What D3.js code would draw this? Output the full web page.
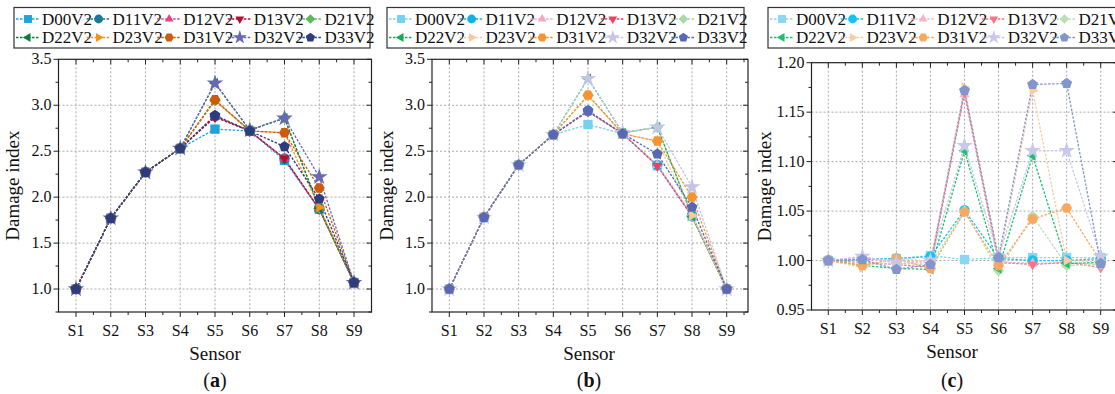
<!DOCTYPE html>
<html>
<head>
<meta charset="utf-8">
<script src="https://cdn.jsdelivr.net/npm/d3@7"></script>
<style>
  body { margin: 0; background: #fff; }
  svg text { font-family: "Liberation Serif", "DejaVu Serif", serif; fill: #111; }
</style>
</head>
<body>
<svg id="chart" width="1115" height="394"></svg>
<script>
const sensors = ["S1", "S2", "S3", "S4", "S5", "S6", "S7", "S8", "S9"];
const seriesNames = ["D00V2", "D11V2", "D12V2", "D13V2", "D21V2", "D22V2", "D23V2", "D31V2", "D32V2", "D33V2"];
const markers = ["square", "circle", "triUp", "triDown", "diamond", "triLeft", "triRight", "hexagon", "star", "pentagon"];

const colorsA = ["#1aa5de", "#1a7896", "#ea3f80", "#b4102e", "#5cb85c", "#0e7c3a", "#f39020", "#cc5c0c", "#6868b4", "#2c3c7c"];
const colorsB = ["#78d0f0", "#10b0e8", "#f4a8c8", "#f0405c", "#a8d8a8", "#10b050", "#f8c8a0", "#f89430", "#c4c4e4", "#5868b4"];
const colorsC = ["#88d8f4", "#10c4f4", "#f8b4cc", "#f87488", "#b8e0b0", "#20c070", "#f8cca4", "#f8a860", "#c8c8e8", "#8494cc"];

// panel (a)
const valuesA = [
  [1.00, 1.77, 2.27, 2.53, 2.74, 2.72, 2.40, 1.87, 1.07],
  [1.00, 1.77, 2.27, 2.53, 2.88, 2.72, 2.42, 1.87, 1.07],
  [1.00, 1.77, 2.27, 2.53, 2.88, 2.72, 2.42, 1.87, 1.07],
  [1.00, 1.77, 2.27, 2.53, 2.87, 2.72, 2.42, 1.87, 1.07],
  [1.00, 1.77, 2.27, 2.53, 3.05, 2.73, 2.86, 1.88, 1.07],
  [1.00, 1.77, 2.27, 2.53, 3.24, 2.73, 2.86, 1.88, 1.07],
  [1.00, 1.77, 2.27, 2.53, 3.05, 2.72, 2.70, 1.89, 1.07],
  [1.00, 1.77, 2.27, 2.53, 3.06, 2.72, 2.70, 2.10, 1.07],
  [1.00, 1.77, 2.27, 2.53, 3.24, 2.73, 2.86, 2.22, 1.07],
  [1.00, 1.77, 2.27, 2.53, 2.89, 2.72, 2.55, 1.98, 1.07]
];
// panel (b)
const valuesB = [
  [1.00, 1.78, 2.35, 2.68, 2.79, 2.69, 2.34, 1.79, 1.00],
  [1.00, 1.78, 2.35, 2.68, 2.94, 2.69, 2.35, 1.80, 1.00],
  [1.00, 1.78, 2.35, 2.68, 2.94, 2.69, 2.35, 1.80, 1.00],
  [1.00, 1.78, 2.35, 2.68, 2.93, 2.69, 2.34, 1.79, 1.00],
  [1.00, 1.78, 2.35, 2.68, 3.11, 2.70, 2.76, 1.80, 1.00],
  [1.00, 1.78, 2.35, 2.68, 3.29, 2.70, 2.76, 1.79, 1.00],
  [1.00, 1.78, 2.35, 2.68, 3.10, 2.69, 2.61, 1.80, 1.00],
  [1.00, 1.78, 2.35, 2.68, 3.11, 2.69, 2.61, 2.00, 1.00],
  [1.00, 1.78, 2.35, 2.68, 3.29, 2.70, 2.76, 2.11, 1.00],
  [1.00, 1.78, 2.35, 2.68, 2.94, 2.69, 2.47, 1.89, 1.00]
];
// panel (c)
const valuesC = [
  [1.000, 1.002, 1.002, 1.005, 1.001, 1.003, 1.003, 1.003, 1.003],
  [1.000, 1.001, 1.002, 1.004, 1.051, 1.002, 1.000, 1.000, 1.002],
  [1.000, 1.004, 0.997, 0.998, 1.168, 0.999, 0.997, 0.998, 0.996],
  [1.000, 0.998, 0.996, 0.993, 1.170, 0.998, 0.996, 0.998, 0.993],
  [1.000, 0.996, 0.997, 0.996, 1.050, 0.990, 1.045, 0.995, 0.996],
  [1.000, 0.995, 0.992, 0.991, 1.111, 0.992, 1.106, 0.997, 0.998],
  [1.000, 0.993, 1.002, 0.999, 1.175, 0.998, 1.172, 1.000, 0.999],
  [1.000, 0.995, 1.002, 0.992, 1.049, 0.995, 1.042, 1.053, 0.999],
  [1.000, 1.004, 0.998, 1.000, 1.116, 1.004, 1.111, 1.111, 1.004],
  [1.000, 1.001, 0.991, 0.996, 1.172, 1.003, 1.178, 1.179, 0.997]
];
const yTicksAB = [1.0, 1.5, 2.0, 2.5, 3.0, 3.5];
const yTicksC = [0.95, 1.00, 1.05, 1.10, 1.15, 1.20];

const svg = d3.select("#chart");

function markerPath(kind, s) {
  const r = s;
  const poly = (n, rot, rr) => {
    let pts = [];
    for (let i = 0; i < n; i++) {
      const a = rot + i * 2 * Math.PI / n;
      pts.push([rr * Math.cos(a), rr * Math.sin(a)]);
    }
    return "M" + pts.map(p => p.join(",")).join("L") + "Z";
  };
  switch (kind) {
    case "square": return d3.symbol(d3.symbolSquare, (2 * r * 0.9) ** 2)();
    case "circle": return d3.symbol(d3.symbolCircle, Math.PI * r * r)();
    case "triUp": return poly(3, -Math.PI / 2, r * 1.15);
    case "triDown": return poly(3, Math.PI / 2, r * 1.15);
    case "triLeft": return poly(3, Math.PI, r * 1.15);
    case "triRight": return poly(3, 0, r * 1.15);
    case "diamond": return poly(4, 0, r * 1.1);
    case "hexagon": return poly(6, 0, r * 1.05);
    case "pentagon": return poly(5, -Math.PI / 2, r * 1.1);
    case "star": return d3.symbol(d3.symbolStar, r * r * 3.2)();
  }
}

function drawPanel(p) {
  const g = svg.append("g");
  const x = d3.scaleLinear().domain([1, 9]).range([p.x1, p.x9]);
  const y = d3.scaleLinear().domain(p.yDomain).range([p.bottom, p.top]);

  // grid
  g.selectAll(".vg").data(sensors).enter().append("line")
    .attr("x1", (d, i) => x(i + 1)).attr("x2", (d, i) => x(i + 1))
    .attr("y1", p.top).attr("y2", p.bottom)
    .attr("stroke", "#a0a0a0").attr("stroke-width", 0.9).attr("stroke-dasharray", "2,2");
  g.selectAll(".hg").data(p.yTicks.filter(t => y(t) > p.top + 1 && y(t) < p.bottom - 1)).enter().append("line")
    .attr("x1", p.left).attr("x2", p.right)
    .attr("y1", d => y(d)).attr("y2", d => y(d))
    .attr("stroke", "#a0a0a0").attr("stroke-width", 0.9).attr("stroke-dasharray", "2,2");

  // series
  const line = d3.line().x((d, i) => x(i + 1)).y(d => y(d));
  p.values.forEach((vals, si) => {
    g.append("path").attr("d", line(vals))
      .attr("fill", "none").attr("stroke", p.colors[si])
      .attr("stroke-width", 1.3).attr("stroke-dasharray", "2.5,1.5");
  });
  p.values.forEach((vals, si) => {
    g.selectAll(null).data(vals).enter().append("path")
      .attr("d", markerPath(markers[si], p.ms))
      .attr("transform", (d, i) => "translate(" + x(i + 1) + "," + y(d) + ")")
      .attr("fill", p.colors[si]);
  });

  // frame
  g.append("rect").attr("x", p.left).attr("y", p.top)
    .attr("width", p.right - p.left).attr("height", p.bottom - p.top)
    .attr("fill", "none").attr("stroke", "#222").attr("stroke-width", 1.2);

  // x ticks (major + minor), outward at bottom, inward at top
  const xt = d3.range(0, 19).map(k => 0.5 + k * 0.5).filter(v => x(v) > p.left + 1 && x(v) < p.right - 1);
  xt.forEach(v => {
    const major = Number.isInteger(v);
    const len = major ? 5 : 3;
    g.append("line").attr("x1", x(v)).attr("x2", x(v)).attr("y1", p.bottom).attr("y2", p.bottom + len)
      .attr("stroke", "#222").attr("stroke-width", 1);
    g.append("line").attr("x1", x(v)).attr("x2", x(v)).attr("y1", p.top).attr("y2", p.top + len)
      .attr("stroke", "#222").attr("stroke-width", 1);
  });
  g.selectAll(".xl").data(sensors).enter().append("text")
    .attr("x", (d, i) => x(i + 1)).attr("y", p.bottom + 24)
    .attr("text-anchor", "middle").attr("font-size", 16).text(d => d);

  // y ticks
  const step = (p.yTicks[1] - p.yTicks[0]) / 2;
  const yt = d3.range(p.yDomain[0], p.yDomain[1] + step / 2, step / 1);
  yt.forEach((v, k) => {
    const major = p.yTicks.some(t => Math.abs(t - v) < 1e-6);
    const len = major ? 5 : 3;
    g.append("line").attr("x1", p.left - len).attr("x2", p.left).attr("y1", y(v)).attr("y2", y(v))
      .attr("stroke", "#222").attr("stroke-width", 1);
    g.append("line").attr("x1", p.right - len).attr("x2", p.right).attr("y1", y(v)).attr("y2", y(v))
      .attr("stroke", "#222").attr("stroke-width", 1);
  });
  g.selectAll(".yl").data(p.yTicks).enter().append("text")
    .attr("x", p.left - 7).attr("y", d => y(d) + 5)
    .attr("text-anchor", "end").attr("font-size", 16).text(d => d3.format(p.fmt)(d));

  // titles
  g.append("text").attr("x", p.titleX).attr("y", p.bottom + 48)
    .attr("text-anchor", "middle").attr("font-size", 19).text("Sensor");
  g.append("text").attr("transform", "translate(" + p.ylabX + "," + ((p.top + p.bottom) / 2) + ") rotate(-90)")
    .attr("text-anchor", "middle").attr("font-size", 19).text("Damage index");
  const cap = g.append("text").attr("x", p.titleX).attr("y", 387)
    .attr("text-anchor", "middle").attr("font-size", 20);
  cap.append("tspan").text("(");
  cap.append("tspan").attr("font-weight", "bold").text(p.cap);
  cap.append("tspan").text(")");

  // legend
  g.append("rect").attr("x", p.legX).attr("y", 7.5).attr("width", p.legW).attr("height", 40.5)
    .attr("fill", "#fff").attr("stroke", "#333").attr("stroke-width", 1.2);
  seriesNames.forEach((name, si) => {
    const col = si % 5, row = Math.floor(si / 5);
    const lx = p.legX + 2 + col * 70.6;
    const ly = 19 + row * 18.5;
    g.append("line").attr("x1", lx).attr("x2", lx + 24).attr("y1", ly).attr("y2", ly)
      .attr("stroke", p.colors[si]).attr("stroke-width", 1.3).attr("stroke-dasharray", "2.5,1.5");
    g.append("path").attr("d", markerPath(markers[si], 4.4))
      .attr("transform", "translate(" + (lx + 12) + "," + ly + ")").attr("fill", p.colors[si]);
    g.append("text").attr("x", lx + 26).attr("y", ly + 5.5).attr("font-size", 17).text(name);
  });
}

drawPanel({ values: valuesA, colors: colorsA, cap: "a", yDomain: [0.75, 3.5], yTicks: yTicksAB, fmt: ".1f",
  left: 58.5, right: 371.5, top: 59.3, bottom: 312, x1: 76, x9: 354, ms: 5.2,
  titleX: 215, ylabX: 19, legX: 14, legW: 356 });
drawPanel({ values: valuesB, colors: colorsB, cap: "b", yDomain: [0.75, 3.5], yTicks: yTicksAB, fmt: ".1f",
  left: 432, right: 748, top: 59.3, bottom: 312, x1: 449.3, x9: 726.7, ms: 5.2,
  titleX: 589, ylabX: 393, legX: 387, legW: 357 });
drawPanel({ values: valuesC, colors: colorsC, cap: "c", yDomain: [0.95, 1.20], yTicks: yTicksC, fmt: ".2f",
  left: 811.5, right: 1118, top: 62.7, bottom: 310, x1: 828.3, x9: 1100.7, ms: 5.2,
  titleX: 952, ylabX: 771, legX: 768, legW: 360 });
</script>
</body>
</html>
